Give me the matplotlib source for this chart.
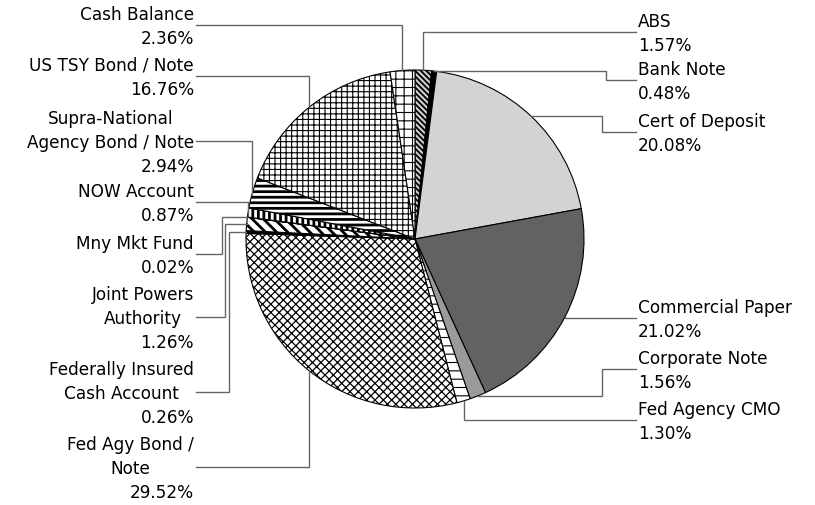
import numpy as np
import matplotlib.pyplot as plt

# Portfolio allocation (clockwise from 12 o'clock)
names = ["ABS", "Bank Note", "Cert of Deposit", "Commercial Paper", "Corporate Note",
         "Fed Agency CMO", "Fed Agy Bond /\nNote", "Federally Insured\nCash Account",
         "Joint Powers\nAuthority", "Mny Mkt Fund", "NOW Account",
         "Supra-National\nAgency Bond / Note", "US TSY Bond / Note", "Cash Balance"]
pcts = [1.57, 0.48, 20.08, 21.02, 1.56, 1.30, 29.52, 0.26, 1.26, 0.02, 0.87, 2.94, 16.76, 2.36]

faces = ['#cfcfcf', 'black', '#d3d3d3', '#626262', '#9a9a9a', 'white', 'white',
         'black', 'white', 'black', 'white', 'white', 'white', 'white']
hatches = ['\\\\\\\\\\\\', None, None, None, None, '--', 'xxxx', None,
           '\\\\\\', None, '|||', '---', '+++', '++']
hatch_lw = [1.3, 0, 0, 0, 0, 0.8, 0.9, 0, 2.0, 0, 2.0, 2.0, 0.8, 0.8]

# layout in pixels
W, H = 815, 505
cx, cy, r = 415, 239, 169
lead_y = [32, 80, 132, 318, 369, 420, 467, 392, 317, 254, 202, 141, 76, 25]
bend_x = [None, 606, 602, None, 602, None, None, 229, 225, 222, None, None, None, None]
n_right = 6
pitch = 24

plt.rcParams['hatch.linewidth'] = 0.8
fig = plt.figure(figsize=(W / 100, H / 100), dpi=100)
ax = fig.add_axes([0, 0, 1, 1])

wedges, _ = ax.pie(pcts, center=(cx, cy), radius=r, startangle=-90, counterclock=True,
                   colors=faces, frame=True,
                   wedgeprops=dict(edgecolor='black', linewidth=0.8))
for w, h, hl in zip(wedges, hatches, hatch_lw):
    if h:
        w.set_hatch(h)
        if hasattr(w, 'set_hatch_linewidth'):
            w.set_hatch_linewidth(hl)

ax.set_xlim(0, W)
ax.set_ylim(H, 0)
ax.axis('off')

fig.canvas.draw()
renderer = fig.canvas.get_renderer()

for i, (w, name, p) in enumerate(zip(wedges, names, pcts)):
    mid = np.deg2rad((w.theta1 + w.theta2) / 2)
    x0 = cx + r * np.cos(mid)
    y0 = cy + r * np.sin(mid)
    ly = lead_y[i]
    right = i < n_right
    x_end = 636 if right else 196
    if bend_x[i] is None:
        xs = [x0, x0, x_end]
        ys = [y0, ly, ly]
    else:
        xs = [x0, bend_x[i], bend_x[i], x_end]
        ys = [y0, y0, ly, ly]
    ax.plot(xs, ys, color='#666666', lw=1.0, solid_joinstyle='miter')

    lines = name.split('\n') + [f'{p:.2f}%']
    n = len(lines)
    tx = 638 if right else 194
    ha = 'left' if right else 'right'
    texts = []
    for k, s in enumerate(lines):
        by = ly + (k - (n - 1) / 2) * pitch + 7
        texts.append(ax.text(tx, by, s, ha=ha, va='baseline', fontsize=12.2,
                             family='DejaVu Sans', color='black'))
    # centre the name lines of left-side labels over their widest line
    if not right and n > 2:
        ws = [t.get_window_extent(renderer).width for t in texts[:-1]]
        mw = max(ws)
        for t, wd in zip(texts[:-1], ws):
            t.set_x(tx - (mw - wd) / 2)

fig.savefig('out.png', dpi=100)
